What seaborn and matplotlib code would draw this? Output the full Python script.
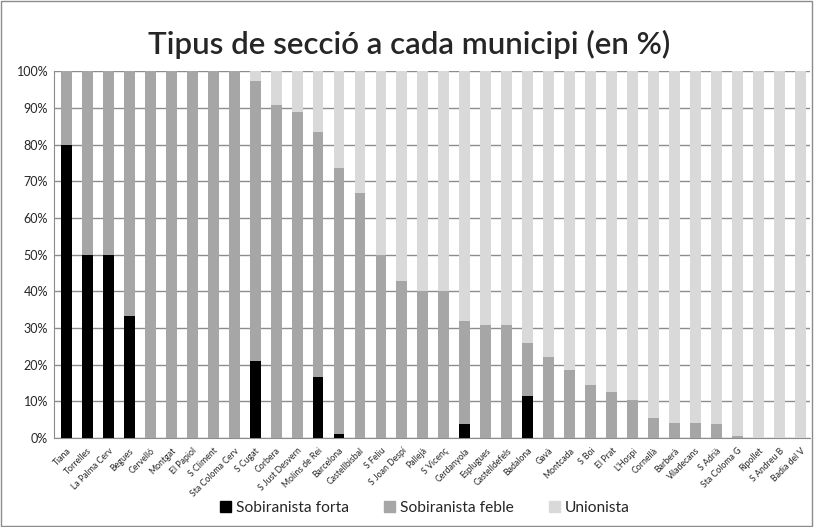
import numpy as np
import pandas as pd
import matplotlib
matplotlib.use("Agg")
import matplotlib.pyplot as plt
import seaborn as sns
from matplotlib.patches import Patch

municipis = ["Tiana", "Torrelles", "La Palma Cerv", "Begues", "Cervelló", "Montgat",
             "El Papiol", "S Climent", "Sta Coloma Cerv", "S Cugat", "Corbera",
             "S Just Desvern", "Molins de Rei", "Barcelona", "Castellbisbal", "S Feliu",
             "S Joan Despí", "Pallejà", "S Vicenç", "Cerdanyola", "Esplugues",
             "Castelldefels", "Badalona", "Gavà", "Montcada", "S Boi", "El Prat",
             "L'Hospi", "Cornellà", "Barberà", "Viladecans", "S Adrià", "Sta Coloma G",
             "Ripollet", "S Andreu B", "Badia del V"]
forta = [80, 50, 50, 33.3, 0, 0, 0, 0, 0, 21.1, 0, 0, 16.7, 1.2, 0, 0, 0, 0, 0, 3.9,
         0, 0, 11.5, 0, 0, 0, 0, 0, 0, 0, 0, 0, 0, 0, 0, 0]
feble = [20, 50, 50, 66.7, 100, 100, 100, 100, 100, 76.1, 90.9, 88.9, 66.7, 72.4, 66.7,
         50, 42.9, 40, 40, 28.1, 30.8, 30.8, 14.5, 22.0, 18.4, 14.4, 12.5, 10.4, 5.3,
         4.2, 4.2, 3.9, 0.6, 0, 0, 0]
unionista = [100 - a - b for a, b in zip(forta, feble)]

df = pd.DataFrame({"municipi": municipis, "forta": forta, "feble": feble,
                   "unionista": unionista})
df["cum_feble"] = df["forta"] + df["feble"]
df["cum_total"] = df["cum_feble"] + df["unionista"]

sns.set_style("white")
plt.rcParams["font.family"] = ["Lato", "DejaVu Sans"]

fig = plt.figure(figsize=(8.14, 5.27), dpi=100)
ax = fig.add_axes([0.066, 0.169, 0.929, 0.696])

c_forta, c_feble, c_union = "#000000", "#a6a6a6", "#d9d9d9"
w = 0.52
for col, c in [("cum_total", c_union), ("cum_feble", c_feble), ("forta", c_forta)]:
    sns.barplot(data=df, x="municipi", y=col, color=c, width=w, saturation=1,
                linewidth=0, edgecolor="none", ax=ax, zorder=3)

ax.set_ylim(0, 100)
ax.set_xlim(-0.6, len(municipis) - 0.55)
ax.set_yticks(range(0, 101, 10))
ax.set_yticklabels([f"{v}%" for v in range(0, 101, 10)], fontsize=9, color="#262626")
ax.yaxis.grid(True, color="#8c8c8c", linewidth=1, zorder=0)
ax.set_axisbelow(True)
ax.set_xlabel("")
ax.set_ylabel("")
ax.set_xticks(range(len(municipis)))
ax.set_xticklabels(municipis, rotation=45, ha="right", rotation_mode="anchor",
                   fontsize=6.3, color="#262626")
ax.tick_params(axis="x", length=0, pad=6)
ax.tick_params(axis="y", length=0, pad=4)
for s in ["top", "right"]:
    ax.spines[s].set_visible(False)
for s in ["left", "bottom"]:
    ax.spines[s].set_color("#8c8c8c")

fig.text(0.502, 0.915, "Tipus de secció a cada municipi (en %)", ha="center",
         va="center", fontsize=22.5, fontweight="semibold")

handles = [Patch(color=c_forta, label="Sobiranista forta"),
           Patch(color=c_feble, label="Sobiranista feble"),
           Patch(color=c_union, label="Unionista")]
fig.legend(handles=handles, loc="center", bbox_to_anchor=(0.522, 0.037), ncol=3,
           frameon=False, fontsize=11.2, handlelength=0.7, handleheight=0.7,
           handletextpad=0.3, columnspacing=2.3)

fig.patches.append(plt.Rectangle((0.001, 0.001), 0.997, 0.997, transform=fig.transFigure,
                                 fill=False, edgecolor="#8c8c8c", linewidth=1))

fig.savefig("out.png", dpi=100)
